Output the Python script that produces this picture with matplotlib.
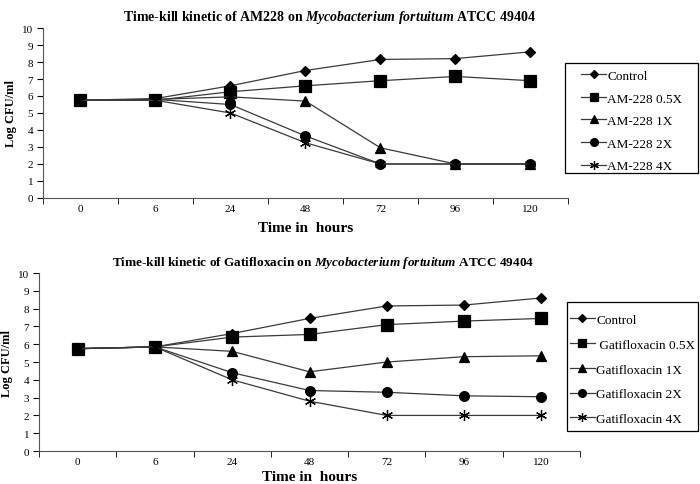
import matplotlib
matplotlib.use('Agg')
from matplotlib import pyplot as plt
from matplotlib.patches import Rectangle

plt.rcParams['font.family'] = 'Liberation Serif'
plt.rcParams['mathtext.fontset'] = 'custom'
plt.rcParams['mathtext.rm'] = 'Liberation Serif:bold'
plt.rcParams['mathtext.it'] = 'Liberation Serif:italic:bold'

hours = ['0', '6', '24', '48', '72', '96', '120']

# AM228 panel
am_control = [5.75, 5.85, 6.6, 7.5, 8.15, 8.2, 8.6]
am_05x = [5.75, 5.75, 6.25, 6.6, 6.9, 7.15, 6.9]
am_1x = [5.75, 5.8, 5.95, 5.7, 2.95, 2.0, 2.0]
am_2x = [5.75, 5.8, 5.5, 3.65, 2.0, 2.0, 2.0]
am_4x = [5.75, 5.75, 5.0, 3.25, 2.0, 2.0, 2.0]
am_labels = ['Control', 'AM-228 0.5X', 'AM-228 1X', 'AM-228 2X', 'AM-228 4X']

# Gatifloxacin panel
gat_control = [5.75, 5.85, 6.6, 7.45, 8.15, 8.2, 8.6]
gat_05x = [5.75, 5.85, 6.4, 6.55, 7.1, 7.3, 7.45]
gat_1x = [5.75, 5.85, 5.6, 4.45, 5.0, 5.3, 5.35]
gat_2x = [5.75, 5.85, 4.4, 3.4, 3.3, 3.1, 3.05]
gat_4x = [5.75, 5.85, 4.0, 2.8, 2.0, 2.0, 2.0]
gat_labels = ['Control', ' Gatifloxacin 0.5X', 'Gatifloxacin 1X',
              'Gatifloxacin 2X', 'Gatifloxacin 4X']

markers = ['D', 's', '^', 'o', (6, 2, 0)]
sizes = [5, 8, 7, 7, 8]
line_col = '#3a3a3a'


def draw_panel(ax, series, labels, title, title_x, title_size, xpad, box,
               leg_corner, leg_size, leg_spacing):
    x = list(range(len(hours)))
    handles = []
    for vals, lab, m, ms in zip(series, labels, markers, sizes):
        h, = ax.plot(x, vals, color=line_col, lw=0.9, marker=m, markersize=ms,
                     markerfacecolor='black', markeredgecolor='black',
                     markeredgewidth=0.9, label=lab)
        handles.append(h)
    ax.set_xlim(-0.5, 6.5)
    ax.set_ylim(0, 10)
    ax.set_xticks(x)
    ax.set_xticklabels(hours)
    ax.set_xticks([i - 0.5 for i in range(8)], minor=True)
    ax.tick_params(axis='x', which='major', length=0, pad=4, labelsize=8)
    ax.tick_params(axis='x', which='minor', length=4, direction='out')
    ax.set_yticks(range(11))
    ax.tick_params(axis='y', length=4, labelsize=8, pad=3)
    for s in ['top', 'right']:
        ax.spines[s].set_visible(False)
    for s in ['left', 'bottom']:
        ax.spines[s].set_color('#555555')
    ax.set_ylabel('Log CFU/ml', fontsize=9, fontweight='bold')
    ax.set_xlabel('Time in  hours', fontsize=11, fontweight='bold', labelpad=xpad)
    ax.set_title(title, fontsize=title_size, fontweight='bold', pad=6, x=title_x)

    # legend frame drawn separately (wider side padding than top/bottom)
    fig.add_artist(Rectangle(box[:2], box[2], box[3], transform=fig.transFigure,
                             fill=False, edgecolor='black', lw=0.9))
    fig.legend(handles=handles, loc='upper left', bbox_to_anchor=leg_corner,
               fontsize=leg_size, frameon=False, handlelength=1.9,
               handletextpad=0.1, labelspacing=leg_spacing, borderpad=0,
               borderaxespad=0, markerscale=0.8)


fig = plt.figure(figsize=(7, 4.85), dpi=100)
ax1 = fig.add_axes([0.0614, 0.5897, 0.75, 0.3505])
ax2 = fig.add_axes([0.0557, 0.068, 0.7729, 0.367])

draw_panel(ax1, [am_control, am_05x, am_1x, am_2x, am_4x], am_labels,
           'Time-kill kinetic of AM228 on $Mycobacterium\\ fortuitum$ ATCC 49404',
           0.545, 10, 6, (0.807, 0.641, 0.19, 0.2268), (0.830, 0.854), 9.5, 0.78)
draw_panel(ax2, [gat_control, gat_05x, gat_1x, gat_2x, gat_4x], gat_labels,
           'Time-kill kinetic of Gatifloxacin on $Mycobacterium\\ fortuitum$ ATCC 49404',
           0.525, 9.5, 3, (0.81, 0.109, 0.187, 0.266), (0.814, 0.351), 9.5, 0.95)

plt.savefig('out.png', dpi=100)
